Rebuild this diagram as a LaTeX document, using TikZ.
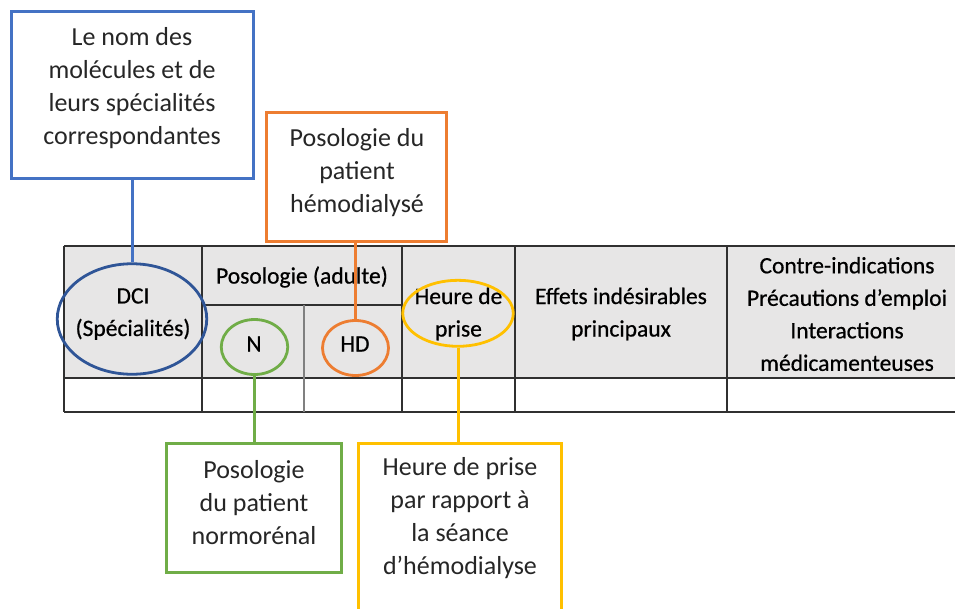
\documentclass[tikz,border=0pt]{standalone}
\usepackage{fontspec}
\setmainfont{Carlito}
\newfontfamily\tabfam[FakeBold=0.6]{Carlito}
\usetikzlibrary{shapes.geometric}
\definecolor{cblue}{HTML}{4472C4}
\definecolor{cdblue}{HTML}{2F5597}
\definecolor{corange}{HTML}{ED7D31}
\definecolor{cgreen}{HTML}{70AD47}
\definecolor{cyellow}{HTML}{FFC000}
\definecolor{hdrfill}{HTML}{E7E6E6}
\definecolor{tabline}{HTML}{303030}
\newcommand{\callfont}{\fontsize{26}{33}\selectfont}
\newcommand{\tabfont}{\tabfam\fontsize{23.5}{32.5}\selectfont}
\tikzset{
  callbox/.style={draw, rectangle, line width=3pt, inner sep=0pt},
  calltext/.style={align=center, font=\callfont, text=black!85, inner sep=0pt},
  tabtext/.style={align=center, font=\tabfont, text=black, inner sep=0pt},
  mark ellipse/.style={draw, ellipse, line width=2.8pt, inner sep=0pt},
  connector/.style={line width=3pt},
  tabrule/.style={draw=tabline, line width=1.4pt}
}
\begin{document}
\begin{tikzpicture}[x=1pt,y=-1pt]
\useasboundingbox (0,0) rectangle (955,608);
\clip (0,0) rectangle (955,608);
% table
\fill[hdrfill] (64,246) rectangle (967,378);
\draw[tabrule] (64,246) -- (967,246);
\draw[tabrule] (64,378) -- (967,378);
\draw[tabrule] (64,412) -- (967,412);
\draw[tabrule] (202,305) -- (402,305);
\draw[tabrule] (64,246) -- (64,412);
\draw[tabrule] (202,246) -- (202,412);
\draw[tabrule,draw=gray] (304,305) -- (304,412);
\draw[tabrule] (402,246) -- (402,412);
\draw[tabrule] (515,246) -- (515,412);
\draw[tabrule] (727,246) -- (727,412);
\draw[tabrule] (967,246) -- (967,412);
% header texts
\node[tabtext] (tdci) at (133,314) {DCI\\(Spécialités)};
\node[tabtext] (tposo) at (302,277) {Posologie (adulte)};
\node[tabtext] (tn) at (254,344) {N};
\node[tabtext] (thd) at (355,344) {HD};
\node[tabtext] (theure) at (458.5,314) {Heure de\\prise};
\node[tabtext] (teffets) at (621,314) {Effets indésirables\\principaux};
\node[tabtext] (tcontre) at (847,314) {Contre-indications\\Précautions d’emploi\\Interactions\\médicamenteuses};
% ellipses
\node[mark ellipse, draw=cdblue, minimum width=149.5pt, minimum height=110.5pt] (edci) at (132,319) {};
\node[mark ellipse, draw=cgreen, minimum width=66.5pt, minimum height=55pt] (en) at (254.5,347) {};
\node[mark ellipse, draw=corange, minimum width=66pt, minimum height=55pt] (ehd) at (355.5,348) {};
\node[mark ellipse, draw=cyellow, minimum width=110.5pt, minimum height=66pt] (eheure) at (458,313.3) {};
% callout boxes
\node[callbox, draw=cblue, minimum width=242pt, minimum height=167pt] (bbox) at (132,95) {};
\node[calltext] (btext) at (132,88) {Le nom des\\molécules et de\\leurs spécialités\\correspondantes};
\node[callbox, draw=corange, minimum width=180pt, minimum height=129pt] (obox) at (356.5,177) {};
\node[calltext] (otext) at (357,173) {Posologie du\\patient\\hémodialysé};
\node[callbox, draw=cgreen, minimum width=175pt, minimum height=129.5pt] (gbox) at (254,508) {};
\node[calltext] (gtext) at (254,503) {Posologie\\du patient\\normorénal};
\node[callbox, draw=cyellow, minimum width=203pt, minimum height=200pt] (ybox) at (460,543) {};
\node[calltext] (ytext) at (460,518) {Heure de prise\\par rapport à\\la séance\\d’hémodialyse};
% connectors
\draw[connector, cblue] (bbox.south) -- (edci.north);
\draw[connector, corange] (ehd.north |- obox.south) -- (ehd.north);
\draw[connector, cgreen] (en.south) -- (en.south |- gbox.north);
\draw[connector, cyellow] (eheure.south) -- (eheure.south |- ybox.north);
\end{tikzpicture}
\end{document}
